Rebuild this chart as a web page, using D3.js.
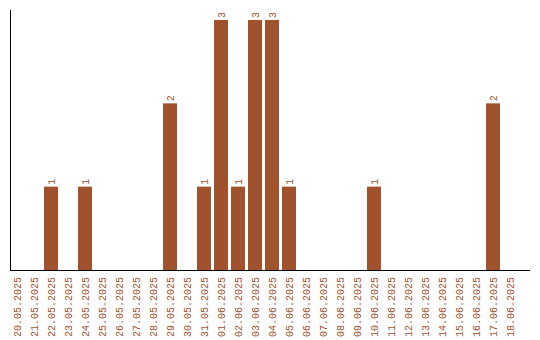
<!DOCTYPE html>
<html><head><meta charset="utf-8">
<script src="https://cdn.jsdelivr.net/npm/d3@7"></script>
<style>body{margin:0;background:#fff}svg{display:block}</style>
</head><body>
<script>
const dates = ["20.05.2025","21.05.2025","22.05.2025","23.05.2025","24.05.2025","25.05.2025","26.05.2025","27.05.2025","28.05.2025","29.05.2025","30.05.2025","31.05.2025","01.06.2025","02.06.2025","03.06.2025","04.06.2025","05.06.2025","06.06.2025","07.06.2025","08.06.2025","09.06.2025","10.06.2025","11.06.2025","12.06.2025","13.06.2025","14.06.2025","15.06.2025","16.06.2025","17.06.2025","18.06.2025"];
const counts = [0,0,1,0,1,0,0,0,0,2,0,1,3,1,3,3,1,0,0,0,0,1,0,0,0,0,0,0,2,0];

const W = 540, H = 340, color = "#A0522D";
const font = "Liberation Mono, DejaVu Sans Mono, monospace";
const svg = d3.select("body").append("svg").attr("width", W).attr("height", H);
const x = d3.scaleBand().domain(dates).range([10, 517]).paddingInner(3/17).paddingOuter(0);
const y = d3.scaleLinear().domain([0, 3]).range([270, 20]);
const data = dates.map((d, i) => ({d, v: counts[i]}));

svg.selectAll("rect.bar").data(data.filter(e => e.v > 0)).join("rect")
  .attr("class", "bar")
  .attr("x", e => x(e.d)).attr("width", x.bandwidth())
  .attr("y", e => y(e.v)).attr("height", e => y(0) - y(e.v))
  .attr("fill", color);

svg.selectAll("text.val").data(data.filter(e => e.v > 0)).join("text")
  .attr("class", "val")
  .attr("transform", e => `translate(${x(e.d) + x.bandwidth()/2 + 3.5},${y(e.v) - 2}) rotate(-90)`)
  .attr("font-family", font).attr("font-size", 10)
  .attr("fill", color).attr("text-anchor", "start")
  .text(e => e.v);

const xAxis = d3.axisBottom(x).tickSize(0).tickPadding(0);
const gx = svg.append("g").attr("transform", "translate(0,270)").call(xAxis);
gx.select(".domain").remove();
gx.selectAll("text")
  .attr("font-family", font).attr("font-size", 10)
  .attr("fill", color)
  .attr("text-anchor", "end")
  .attr("dy", null).attr("y", null)
  .attr("transform", "translate(3.5,7) rotate(-90)");

svg.append("line").attr("x1", 10).attr("x2", 530).attr("y1", 270.5).attr("y2", 270.5)
  .attr("stroke", "#000").attr("stroke-width", 1);
svg.append("line").attr("x1", 10.5).attr("x2", 10.5).attr("y1", 10).attr("y2", 271)
  .attr("stroke", "#000").attr("stroke-width", 1);
</script>
</body></html>
